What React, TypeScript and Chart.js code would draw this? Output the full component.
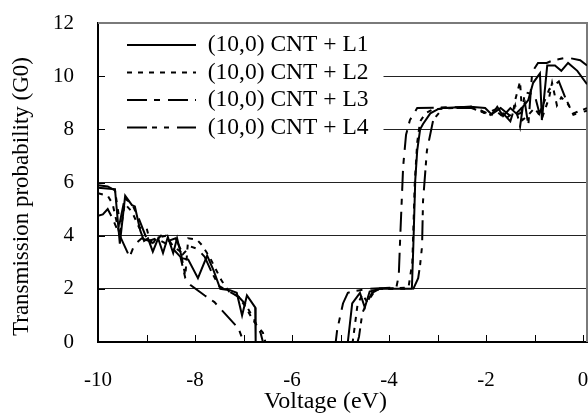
import React, { useEffect, useRef } from 'react';
import { Chart, registerables } from 'chart.js';

Chart.register(...registerables);

const FONT = "'Liberation Serif', 'Times New Roman', serif";

const SERIES_NAMES = ['(10,0) CNT + L1', '(10,0) CNT + L2', '(10,0) CNT + L3', '(10,0) CNT + L4'];
const X_TITLE = 'Voltage (eV)';
const Y_TITLE = 'Transmission probability (G0)';

const L1_X = [-10, -9.65, -9.55, -9.44, -9.3, -9.24, -9.13, -9.05, -8.97, -8.87, -8.76, -8.66, -8.56, -8.45, -8.37, -8.27, -8.14, -7.94, -7.75, -7.62, -7.48, -7.28, -7.14, -7.03, -6.93, -6.76, -6.75, -4.85, -4.76, -4.6, -4.5, -4.4, -4.19, -3.53, -3.5, -3.46, -3.42, -3.36, -3.3, -3.15, -3.0, -2.89, -2.33, -2.02, -1.88, -1.77, -1.65, -1.5, -1.38, -1.24, -1.13, -1.03, -0.89, -0.85, -0.74, -0.58, -0.45, -0.31, -0.12, 0.08];
const L1_Y = [5.8, 5.75, 3.7, 5.5, 5.15, 5.1, 4.2, 3.8, 3.9, 3.4, 3.9, 3.35, 3.95, 3.35, 3.9, 3.15, 3.1, 2.4, 3.25, 2.7, 2.0, 1.95, 1.85, 1.0, 1.75, 1.3, 0, 0, 1.45, 1.85, 1.3, 1.9, 2.0, 2.0, 3.6, 6.1, 7.2, 8.0, 8.2, 8.6, 8.75, 8.8, 8.85, 8.8, 8.55, 8.85, 8.5, 8.8, 8.6, 8.85, 9.1, 9.75, 10.1, 8.35, 10.4, 10.4, 10.2, 10.5, 10.2, 9.7];

const L2_X = [-10, -9.8, -9.7, -9.55, -9.45, -9.3, -9.15, -9.0, -8.9, -8.8, -8.6, -8.45, -8.3, -8.2, -8.14, -7.96, -7.86, -7.7, -7.59, -7.45, -7.3, -7.1, -6.95, -6.8, -6.6, -6.55, -4.75, -4.65, -4.55, -4.45, -4.3, -4.2, -3.6, -3.52, -3.47, -3.42, -3.36, -3.25, -3.1, -2.3, -2.1, -1.95, -1.8, -1.6, -1.45, -1.4, -1.3, -1.25, -1.15, -1.0, -0.85, -0.7, -0.64, -0.54, -0.45, -0.33, -0.2, 0.08];
const L2_Y = [5.6, 5.5, 5.2, 4.0, 5.2, 4.9, 4.3, 4.3, 3.6, 3.9, 4.0, 3.6, 3.4, 2.5, 3.9, 3.85, 3.65, 3.2, 2.8, 2.3, 1.9, 1.7, 1.3, 0.8, 0.35, 0, 0, 1.4, 1.8, 1.5, 1.9, 2.0, 2.05, 3.0, 6.0, 7.5, 8.3, 8.6, 8.75, 8.85, 8.7, 8.5, 8.7, 8.4, 8.6, 9.1, 9.8, 8.35, 8.5, 8.8, 8.4, 9.2, 9.75, 8.9, 9.2, 9.0, 8.6, 8.8];

const L3_X = [-10, -9.9, -9.8, -9.7, -9.55, -9.35, -9.25, -9.1, -8.95, -8.8, -8.6, -8.45, -8.3, -8.2, -8.1, -7.8, -7.6, -7.35, -7.1, -7.0, -5.1, -5.07, -4.95, -4.85, -4.76, -4.6, -4.43, -3.85, -3.8, -3.77, -3.71, -3.65, -3.57, -3.42, -2.3, -2.1, -1.9, -1.7, -1.5, -1.3, -1.2, -1.13, -1.05, -0.93, -0.75, -0.62, -0.33, -0.06, 0.08];
const L3_Y = [4.75, 4.8, 5.0, 4.65, 4.0, 3.2, 3.65, 3.9, 3.8, 3.9, 3.7, 3.5, 3.2, 2.4, 2.15, 1.75, 1.5, 1.0, 0.5, 0, 0, 0.45, 1.45, 1.85, 1.9, 1.95, 2.0, 2.05, 2.5, 3.95, 6.6, 7.8, 8.35, 8.8, 8.85, 8.7, 8.55, 8.8, 8.5, 8.6, 9.0, 8.15, 10.15, 10.5, 10.5, 10.6, 10.7, 10.6, 10.4];

const L4_X = [-10, -9.8, -9.65, -9.55, -9.45, -9.3, -9.15, -9.0, -8.85, -8.7, -8.55, -8.4, -8.25, -8.1, -7.95, -7.8, -7.65, -7.5, -7.3, -7.1, -6.95, -6.8, -6.65, -6.6, -4.65, -4.62, -4.55, -4.45, -4.35, -4.2, -3.5, -3.4, -3.36, -3.32, -3.3, -3.22, -3.09, -2.89, -2.3, -2.0, -1.75, -1.5, -1.4, -1.3, -1.2, -1.0, -0.9, -0.7, -0.5, -0.37, -0.2, 0.08];
const L4_Y = [5.9, 5.85, 5.7, 4.5, 5.4, 5.2, 4.6, 3.9, 3.7, 4.0, 3.8, 3.9, 3.3, 3.6, 3.5, 3.2, 2.6, 2.1, 1.9, 1.7, 1.4, 0.9, 0.35, 0, 0, 0.2, 1.1, 1.5, 1.85, 2.0, 2.0, 2.4, 2.9, 3.6, 5.3, 7.2, 8.35, 8.8, 8.8, 8.6, 8.8, 8.3, 8.9, 8.1, 9.4, 9.3, 8.6, 9.5, 9.8, 9.2, 8.55, 8.7];

const X_MIN = -10;
const X_MAX = 0.08;
const X_STEP = 1;
const Y_MIN = 0;
const Y_MAX = 12;
const Y_STEP = 2;

const LEGEND_FONT_SIZE = 23.5;
const LEGEND_PAD = 4;

export default function App() {
  const ref = useRef<HTMLCanvasElement>(null);

  useEffect(() => {
    const canvas = ref.current;
    if (!canvas) return;
    const mk = (xs: number[], ys: number[]) => xs.map((x, i) => ({ x, y: ys[i] }));
    const seriesX = [L1_X, L2_X, L3_X, L4_X];
    const seriesY = [L1_Y, L2_Y, L3_Y, L4_Y];
    const dashes = [[], [5, 6], [20, 7, 6, 8], [20, 5, 5, 7, 5, 8]];

    const datasets = SERIES_NAMES.map((name, i) => ({
      label: name,
      data: mk(seriesX[i], seriesY[i]),
      borderColor: '#000',
      backgroundColor: '#000',
      borderWidth: 2,
      borderDash: dashes[i],
      pointRadius: 0,
      tension: 0,
      fill: false,
    }));

    const zeroPad = (s: any) => {
      s.paddingLeft = 0;
      s.paddingRight = 0;
      s.paddingTop = 0;
      s.paddingBottom = 0;
    };

    const excelPlugin = {
      id: 'excelStyle',
      afterLayout(chart: any) {
        const lg = chart.legend;
        const a = chart.chartArea;
        if (lg) {
          lg.left = a.left + 25;
          lg.top = a.top + 6.25;
          lg.right = a.right;
          lg.bottom = a.bottom;
        }
      },
      beforeDatasetsDraw(chart: any) {
        const { ctx, chartArea: a, scales } = chart;
        const xs = scales.x;
        const ys = scales.y;
        const lg = chart.legend;
        if (lg) {
          const colH = lg.columnSizes && lg.columnSizes[0] ? lg.columnSizes[0].height : 110;
          ctx.save();
          ctx.fillStyle = '#fff';
          const right = lg.left + lg.width + 5;
          const bottom = lg.top + LEGEND_PAD + colH + 10;
          ctx.fillRect(a.left + 1.5, a.top + 1, right - a.left - 1.5, bottom - a.top - 1);
          ctx.restore();
          lg.draw();
        }
        ctx.save();
        ctx.strokeStyle = '#000';
        ctx.lineWidth = 1;
        ctx.beginPath();
        xs.ticks.forEach((t: any) => {
          const px = Math.round(xs.getPixelForValue(t.value)) + 0.5;
          ctx.moveTo(px, a.bottom);
          ctx.lineTo(px, a.bottom - 7);
        });
        ys.ticks.forEach((t: any) => {
          if (t.value === Y_MIN) return;
          const py = Math.round(ys.getPixelForValue(t.value)) + 0.5;
          ctx.moveTo(a.left, py);
          ctx.lineTo(a.left + 7, py);
        });
        ctx.stroke();
        ctx.strokeStyle = '#7a7a7a';
        ctx.lineWidth = 2;
        ctx.beginPath();
        ctx.moveTo(a.left, a.top);
        ctx.lineTo(a.right, a.top);
        ctx.lineTo(a.right, a.bottom);
        ctx.stroke();
        ctx.restore();
      },
      afterDraw(chart: any) {
        const { ctx, chartArea: a } = chart;
        ctx.save();
        ctx.fillStyle = '#000';
        ctx.textAlign = 'center';
        ctx.textBaseline = 'middle';
        ctx.font = `24px ${FONT}`;
        ctx.fillText(X_TITLE, (a.left + a.right) / 2 - 17, a.bottom + 60);
        ctx.font = `23px ${FONT}`;
        ctx.translate(a.left - 76, (a.top + a.bottom) / 2 + 14);
        ctx.rotate(-Math.PI / 2);
        ctx.fillText(Y_TITLE, 0, 0);
        ctx.restore();
      },
    };

    const chart = new Chart(canvas, {
      type: 'line',
      data: { datasets },
      options: {
        animation: false,
        responsive: false,
        maintainAspectRatio: false,
        layout: { padding: { top: 23, right: 1, left: 0, bottom: 0 }, autoPadding: false },
        plugins: {
          tooltip: { enabled: false },
          legend: {
            position: 'chartArea',
            align: 'start',
            labels: {
              usePointStyle: true,
              pointStyle: 'line',
              pointStyleWidth: 69,
              boxHeight: 2,
              padding: LEGEND_PAD,
              color: '#000',
              font: { family: FONT, size: LEGEND_FONT_SIZE },
              generateLabels: (ch: any) => {
                const items = Chart.defaults.plugins.legend.labels.generateLabels(ch);
                return items.map((it: any, i: number) => ({
                  ...it,
                  lineDash: ch.data.datasets[i].borderDash,
                  lineWidth: ch.data.datasets[i].borderWidth,
                  strokeStyle: '#000',
                  fillStyle: '#000',
                  pointStyle: 'line',
                }));
              },
            },
          },
        },
        scales: {
          x: {
            type: 'linear',
            min: X_MIN,
            max: X_MAX,
            afterFit: (s: any) => { s.height = 71; zeroPad(s); },
            ticks: {
              stepSize: X_STEP,
              includeBounds: false,
              autoSkip: false,
              maxRotation: 0,
              color: '#000',
              padding: 26,
              font: { family: FONT, size: 21 },
              callback: (v: any) => (Math.round(v) % 2 === 0 ? String(Math.round(v)) : ''),
            },
            grid: { drawOnChartArea: false, drawTicks: false },
            border: { color: '#000', width: 2 },
          },
          y: {
            type: 'linear',
            min: Y_MIN,
            max: Y_MAX,
            afterFit: (s: any) => { s.width = 98; zeroPad(s); },
            ticks: {
              stepSize: Y_STEP,
              color: '#000',
              padding: 24,
              font: { family: FONT, size: 21 },
            },
            grid: {
              drawTicks: false,
              color: (c: any) => (c.tick && (c.tick.value === Y_MIN || c.tick.value === Y_MAX) ? 'rgba(0,0,0,0)' : '#222'),
              lineWidth: 1,
            },
            border: { color: '#000', width: 2 },
          },
        },
      },
      plugins: [excelPlugin],
    } as any);

    return () => chart.destroy();
  }, []);

  return (
    <div style={{ position: 'absolute', left: 0, top: 0, width: 588, height: 413, background: '#fff' }}>
      <canvas ref={ref} width={588} height={413} style={{ width: 588, height: 413, display: 'block' }} />
    </div>
  );
}
